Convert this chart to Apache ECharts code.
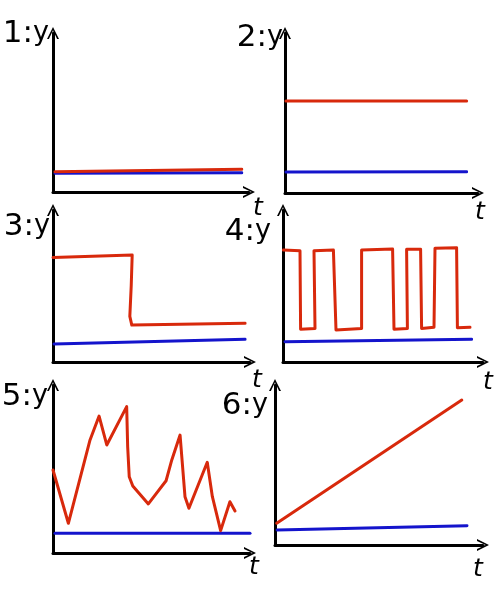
<!DOCTYPE html>
<html>
<head>
<meta charset="utf-8">
<script src="https://cdn.jsdelivr.net/npm/echarts@6/dist/echarts.min.js"></script>
<style>html,body{margin:0;padding:0;background:#fff}#c{width:500px;height:600px}</style>
</head>
<body>
<div id="c"></div>
<script>
// Panel labels
const panelNumbers = ['1:', '2:', '3:', '4:', '5:', '6:'];
const yName = 'y';
const tName = 't';

// Panel 1 (t, y)
const p1Red = [[0.1, 1.28], [9.63, 1.43]];
const p1Blue = [[0.1, 1.18], [9.63, 1.21]];
// Panel 2
const p2Red = [[0.05, 5.75], [9.41, 5.75]];
const p2Blue = [[0.05, 1.31], [9.41, 1.33]];
// Panel 3
const p3Red = [[0, 6.88], [4.02, 7.04], [3.97, 5.0], [3.9, 3.0], [4.0, 2.43], [9.75, 2.55]];
const p3Blue = [[0.05, 1.18], [9.75, 1.49]];
// Panel 4 (square wave)
const p4Red = [
  [0.02, 7.37], [0.85, 7.32], [0.88, 2.15], [1.6, 2.21], [1.55, 7.32], [2.52, 7.37],
  [2.65, 2.11], [3.93, 2.21], [3.93, 7.37], [5.48, 7.43], [5.55, 2.15], [6.22, 2.21],
  [6.18, 7.41], [6.88, 7.41], [6.93, 2.21], [7.55, 2.28], [7.6, 7.48], [8.68, 7.52],
  [8.72, 2.26], [9.35, 2.28]
];
const p4Blue = [[0.1, 1.34], [9.43, 1.49]];
// Panel 5 (irregular)
const p5Red = [
  [0, 4.94], [0.78, 1.77], [1.88, 6.73], [2.34, 8.15], [2.73, 6.43], [3.74, 8.71],
  [3.79, 6.33], [3.87, 4.54], [4.05, 3.99], [4.84, 2.92], [5.18, 3.45], [5.74, 4.30],
  [6.03, 5.54], [6.45, 7.02], [6.70, 3.35], [6.90, 2.66], [7.83, 5.40], [8.09, 3.35],
  [8.51, 1.33], [8.98, 3.05], [9.24, 2.50]
];
const p5Blue = [[0.1, 1.17], [10, 1.17]];
// Panel 6 (linear rise)
const p6Red = [[0.08, 1.36], [8.98, 9.06]];
const p6Blue = [[0.1, 0.94], [9.23, 1.21]];

const redSeries = [p1Red, p2Red, p3Red, p4Red, p5Red, p6Red];
const blueSeries = [p1Blue, p2Blue, p3Blue, p4Blue, p5Blue, p6Blue];

const RED = '#d8290c';
const BLUE = '#1414cc';
const INK = '#000';

const gridsPx = [
  {left: 53, top: 33, width: 196, height: 159},
  {left: 285, top: 33, width: 193, height: 160},
  {left: 53, top: 210, width: 197, height: 152},
  {left: 283, top: 210, width: 200, height: 152},
  {left: 53, top: 385, width: 197, height: 168},
  {left: 275, top: 385, width: 208, height: 160}
];
const yNameGap = [-1, -5, -17, -22, -12, -21];
const yNamePadRight = [4, 2, 3, 12, 5, 7];
const tNameGap = [9, 2, 7, 5, 4, -5];
const tNamePadTop = [4, 7, 6, 8, 2, 12];

const chevron = 'path://M0,10 L5,0 L10,10 L8.4,10 L5,2.8 L1.6,10 Z';
const axisLine = {
  show: true,
  onZero: false,
  symbol: ['none', chevron],
  symbolSize: [17, 12],
  lineStyle: {color: INK, width: 3, cap: 'round'}
};

const grid = [], xAxis = [], yAxis = [], series = [];
gridsPx.forEach((g, i) => {
  grid.push(Object.assign({containLabel: false}, g));
  xAxis.push({
    type: 'value', gridIndex: i, min: 0, max: 10,
    axisLine: axisLine, axisTick: {show: false}, axisLabel: {show: false}, splitLine: {show: false},
    name: tName, nameLocation: 'end', nameGap: tNameGap[i],
    nameTextStyle: {
      fontFamily: 'DejaVu Sans', fontStyle: 'italic', fontSize: 25, color: INK,
      align: 'center', verticalAlign: 'top', padding: [tNamePadTop[i], 0, 0, 0]
    }
  });
  yAxis.push({
    type: 'value', gridIndex: i, min: 0, max: 10,
    axisLine: axisLine, axisTick: {show: false}, axisLabel: {show: false}, splitLine: {show: false},
    name: '{n|' + panelNumbers[i] + '}{v|' + yName + '}', nameLocation: 'end', nameGap: yNameGap[i],
    nameTextStyle: {
      align: 'right', verticalAlign: 'middle', padding: [0, yNamePadRight[i], 0, 0],
      rich: {
        n: {fontFamily: 'DejaVu Sans', fontSize: 31, color: INK},
        v: {fontFamily: 'DejaVu Sans', fontSize: 27, color: INK, padding: [0, 0, 2, 0]}
      }
    }
  });
  series.push({
    type: 'line', xAxisIndex: i, yAxisIndex: i, data: blueSeries[i],
    showSymbol: false, symbol: 'none', silent: true, animation: false,
    lineStyle: {color: BLUE, width: 3, cap: 'round', join: 'round'}
  });
  series.push({
    type: 'line', xAxisIndex: i, yAxisIndex: i, data: redSeries[i],
    showSymbol: false, symbol: 'none', silent: true, animation: false,
    lineStyle: {color: RED, width: 3, cap: 'round', join: 'round'}
  });
});

const chart = echarts.init(document.getElementById('c'), null, {renderer: 'canvas'});
chart.setOption({
  backgroundColor: '#fff',
  animation: false,
  grid: grid, xAxis: xAxis, yAxis: yAxis, series: series
});
</script>
</body>
</html>
